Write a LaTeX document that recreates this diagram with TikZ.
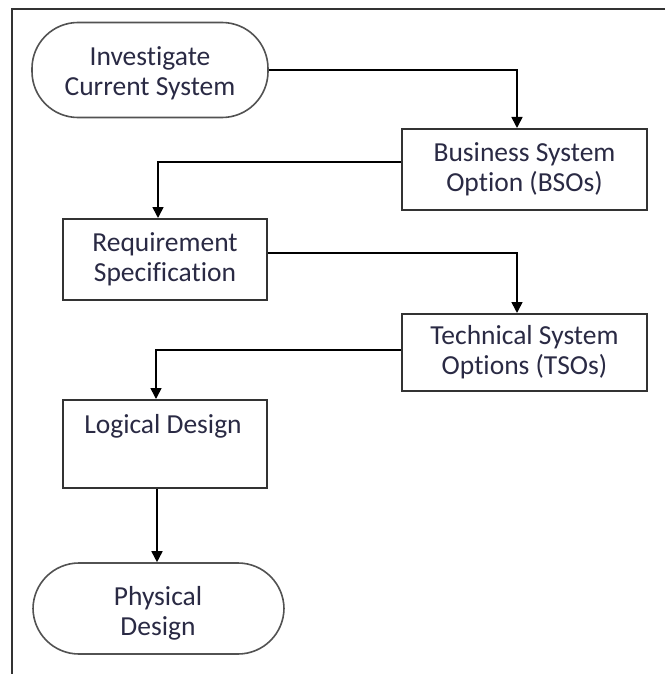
\documentclass[tikz,border=0pt]{standalone}
\usepackage{fontspec}
\setmainfont{Carlito}[Ligatures={NoCommon}]
\usetikzlibrary{arrows.meta}
\definecolor{ink}{HTML}{2A2A44}
\definecolor{edge}{HTML}{333333}
\tikzset{
  label font/.style={font=\fontsize{27.5}{30}\selectfont},
  procbox/.style={draw=edge, line width=2pt, fill=white, inner sep=0pt,
    text=ink, label font, align=center},
  termbox/.style={draw=edge!85, line width=1.6pt, fill=white, rounded corners=46pt,
    inner sep=0pt, text=ink, label font, align=center},
  flow/.style={draw=black, line width=1.6pt, -{Triangle[width=11pt,length=11pt]}},
}
\begin{document}
\begin{tikzpicture}[x=1pt, y=-1pt]
  \useasboundingbox (0,0) rectangle (665,674);
  % page frame: top and left edges only
  \draw[edge, line width=1.8pt] (665,9) -- (12,9) -- (12,674);

  % steps of the flow
  \node[termbox, minimum width=236pt, minimum height=95pt] (inv) at (150,70) {};
  \node[text=ink, label font, align=center] (invtxt) at (150,73)
    {Investigate\\Current System};
  \node[procbox, minimum width=245pt, minimum height=81pt] (bso) at (524.5,169.5)
    {Business System\\Option (BSOs)};
  \node[procbox, minimum width=204pt, minimum height=81pt] (req) at (165,259.5)
    {Requirement\\Specification};
  \node[procbox, minimum width=245pt, minimum height=77pt] (tso) at (524.5,352.5)
    {Technical System\\Options (TSOs)};
  \node[procbox, minimum width=204pt, minimum height=88pt] (log) at (165,444) {};
  \node[text=ink, label font, anchor=base] (logtxt) at (163,433) {Logical Design};
  \node[termbox, minimum width=251pt, minimum height=91pt] (phy) at (158.5,608.5) {};
  \node[text=ink, label font, align=center] (phytxt) at (158,613)
    {Physical\\Design};

  % connectors
  \coordinate (c1) at (517,70);
  \coordinate (c2) at (158,162);
  \coordinate (c3) at (517,253);
  \coordinate (c4) at (156,350);
  \draw[flow] (inv.east) -- (c1) -- (c1 |- bso.north);
  \draw[flow] (bso.west |- c2) -- (c2) -- (c2 |- req.north);
  \draw[flow] (req.east |- c3) -- (c3) -- (c3 |- tso.north);
  \draw[flow] (tso.west |- c4) -- (c4) -- (c4 |- log.north);
  \draw[flow] (log.south -| 157,0) -- (157,0 |- phy.north);
\end{tikzpicture}
\end{document}
